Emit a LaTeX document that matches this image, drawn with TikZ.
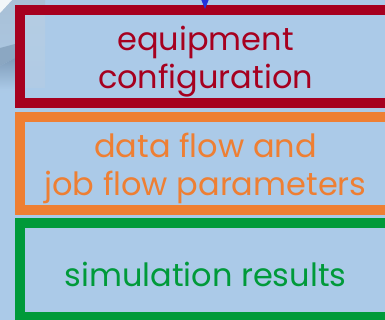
\documentclass[tikz,border=0pt]{standalone}
\usepackage{fontspec}
\setmainfont{Poppins}
\usetikzlibrary{arrows.meta}
\definecolor{bg}{HTML}{ABCAE8}
\definecolor{eqred}{HTML}{A6001F}
\definecolor{dforange}{HTML}{EE7F33}
\definecolor{simgreen}{HTML}{009A3A}
\definecolor{arrowblue}{HTML}{2233DD}
\definecolor{imgA}{HTML}{A9C0D6}
\definecolor{imgB}{HTML}{7F9CB9}
\definecolor{imgC}{HTML}{B4CCE3}
\begin{document}
\begin{tikzpicture}[x=1pt,y=-1pt,
  box/.style={draw, line width=10pt, minimum width=380pt, inner sep=0pt},
  boxtext/.style={inner sep=0pt, align=center, font=\fontsize{32}{38}\selectfont},
  flow/.style={draw=arrowblue, line width=1pt, -{Triangle[length=9pt,width=7pt]}}
]
\useasboundingbox (0,0) rectangle (385,320);
\clip (0,0) rectangle (385,320);
\fill[bg] (0,0) rectangle (385,320);
% background image fragment (top left)
\shade[top color=imgA, bottom color=imgA] (0,0) rectangle (45,5);
\shade[top color=imgA, bottom color=bg] (0,0) rectangle (15,95);
\fill[imgB!70!imgA] (0,48) -- (15,44) -- (15,58) -- (0,66) -- cycle;
\shade[top color=imgB, bottom color=bg] (0,66) -- (15,58) -- (15,90) -- (0,90) -- cycle;
\fill[white!85!imgA] (0,0) -- (12,0) -- (0,13) -- cycle;
\shade[top color=imgC, bottom color=imgC!60!bg] (25,15) rectangle (45,88);
% boxes
\node[box, draw=eqred, minimum height=93pt] (eq) at (210,56.5) {};
\node[boxtext, text=eqred] (eqtext) at ([xshift=-4.5pt,yshift=-5pt]eq.center)
  {equipment\\configuration};
\node[box, draw=dforange, minimum height=93pt] (df) at (210,163.5) {};
\node[boxtext, text=dforange] (dftext) at ([xshift=-4.5pt,yshift=-5pt]df.center)
  {data flow and\\job flow parameters};
\node[box, draw=simgreen, minimum height=94pt] (sim) at (210,270) {};
\node[boxtext, text=simgreen] (simtext) at ([xshift=-4.5pt,yshift=-4pt]sim.center)
  {simulation results};
% incoming connector
\coordinate (src) at (205,-30);
\draw[flow] (src) -- ([yshift=-4pt]eq.north -| src);
\end{tikzpicture}
\end{document}
